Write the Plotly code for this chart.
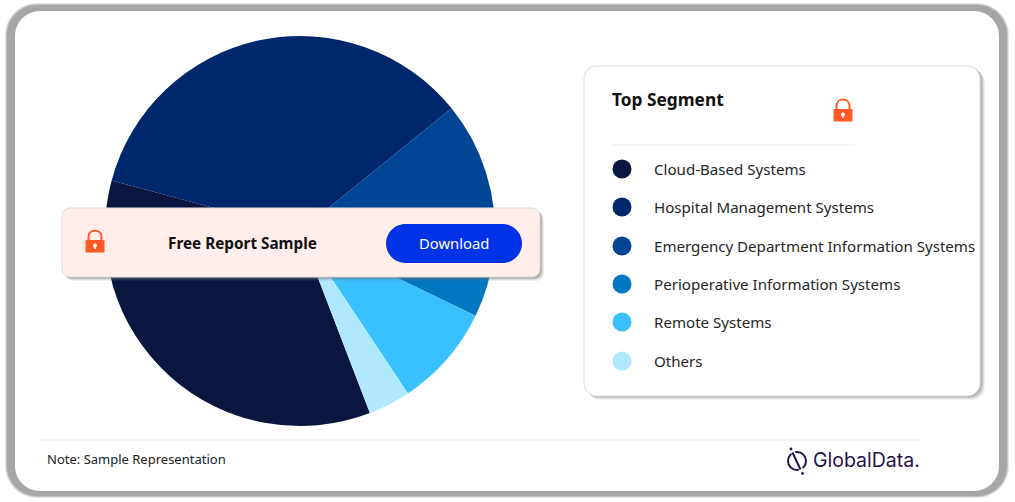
import plotly.graph_objects as go

categories = ["Cloud-Based Systems", "Hospital Management Systems",
              "Emergency Department Information Systems",
              "Perioperative Information Systems", "Remote Systems", "Others"]
shares = [35, 35, 12, 6, 8.5, 3.5]
colors = ["#0a1640", "#00266b", "#004494", "#0078c1", "#38c0ff", "#b0e8ff"]

W, H = 1015, 502
FONT = "Noto Sans"
ORANGE = "#ff5a26"


def px(x):
    return x / W


def py(y):
    return 1 - y / H


def rr_path(x0, y0, x1, y1, r):
    k = 0.45 * r
    pts = [
        ("M", x0 + r, y0), ("L", x1 - r, y0),
        ("C", x1 - k, y0, x1, y0 + k, x1, y0 + r), ("L", x1, y1 - r),
        ("C", x1, y1 - k, x1 - k, y1, x1 - r, y1), ("L", x0 + r, y1),
        ("C", x0 + k, y1, x0, y1 - k, x0, y1 - r), ("L", x0, y0 + r),
        ("C", x0, y0 + k, x0 + k, y0, x0 + r, y0),
    ]
    out = []
    for p in pts:
        coords = p[1:]
        s = " ".join(f"{px(coords[i]):.5f},{py(coords[i + 1]):.5f}" for i in range(0, len(coords), 2))
        out.append(f"{p[0]} {s}")
    return " ".join(out) + " Z"


def rr(x0, y0, x1, y1, r, fill, line=None, lw=0, opacity=1, layer="below"):
    return dict(type="path", xref="paper", yref="paper", path=rr_path(x0, y0, x1, y1, r),
                fillcolor=fill, opacity=opacity, layer=layer,
                line=dict(color=line or "rgba(0,0,0,0)", width=lw))


def seg(x0, y0, x1, y1, color, width=1, layer="above"):
    return dict(type="line", xref="paper", yref="paper", x0=px(x0), x1=px(x1), y0=py(y0), y1=py(y1),
                layer=layer, line=dict(color=color, width=width))


def circle(cx, cy, r, fill, line=None, lw=0, layer="above"):
    return dict(type="circle", xref="paper", yref="paper", x0=px(cx - r), x1=px(cx + r),
                y0=py(cy + r), y1=py(cy - r), fillcolor=fill, layer=layer,
                line=dict(color=line or "rgba(0,0,0,0)", width=lw))


def lock(cx, cy):
    body = rr(cx - 9.5, cy - 2, cx + 9.5, cy + 10.5, 1, ORANGE, layer="above")
    shackle = dict(type="path", xref="paper", yref="paper", layer="above",
                   path=f"M {px(cx - 6.5):.5f},{py(cy - 2):.5f} L {px(cx - 6.5):.5f},{py(cy - 5):.5f} "
                        f"C {px(cx - 6.5):.5f},{py(cy - 13.5):.5f} {px(cx + 6.5):.5f},{py(cy - 13.5):.5f} "
                        f"{px(cx + 6.5):.5f},{py(cy - 5):.5f} L {px(cx + 6.5):.5f},{py(cy - 2):.5f}",
                   fillcolor="rgba(0,0,0,0)", line=dict(color=ORANGE, width=2))
    hole = circle(cx, cy + 3.5, 2, "#ffffff")
    stem = seg(cx, cy + 3.5, cx, cy + 7, "#ffffff", 1.4)
    return [body, shackle, hole, stem]


shapes = []
# outer blurred frame
for g, op in [(2, 0.3), (1, 0.55), (0, 1)]:
    shapes.append(rr(7 - g, 5 - g, 1007 + g, 496 + g, 30 + g, "#a6a6a6", opacity=op))
shapes.append(rr(15, 11, 999, 491, 25, "#ffffff"))
shapes.append(seg(38, 440, 922, 440, "#f0f0f0", 1.5, layer="below"))

# legend card
for g, op in [(4, 0.12), (3, 0.18), (2, 0.25), (1, 0.35)]:
    shapes.append(rr(584 + g, 66 + g, 981 + g, 396 + g, 13, "#8c8c8c", opacity=op))
shapes.append(rr(584, 66, 980, 396, 13, "#ffffff", line="#dedede", lw=1))
shapes.append(seg(613, 145, 855, 145, "#efefef", 1.5, layer="below"))

# banner, above the pie
for g, op in [(4, 0.12), (3, 0.18), (2, 0.25), (1, 0.35)]:
    shapes.append(rr(62 + g, 208 + g, 540 + g, 277 + g, 8, "#707070", opacity=op, layer="above"))
shapes.append(rr(62, 208, 540, 277, 8, "#ffeeea", line="#dcdcdc", lw=1, layer="above"))
shapes.append(rr(386, 224, 522, 263, 19.5, "#0033e6", layer="above"))
shapes += lock(95, 242)
shapes += lock(843, 111)

# legend markers
legend_y = [169, 207, 246, 284, 322, 361]
for c, y in zip(colors, legend_y):
    shapes.append(circle(622, y, 9.5, c))

# GlobalData logo
LOGO = "#24124d"
shapes.append(circle(797, 461, 9, "rgba(0,0,0,0)", line=LOGO, lw=2))
shapes.append(seg(790.5, 447, 803.5, 475, "#ffffff", 4))
shapes.append(seg(792.5, 452.5, 800.5, 469.5, LOGO, 2))
shapes.append(circle(791, 449, 1.4, LOGO))
shapes.append(circle(802.5, 473.5, 1.4, LOGO))


def txt(x, y, s, size, color="#1a1a1a", anchor="left", bold=False, family=FONT):
    return dict(xref="paper", yref="paper", x=px(x), y=py(y), text=f"<b>{s}</b>" if bold else s,
                showarrow=False, xanchor=anchor, yanchor="middle",
                font=dict(family=family, size=size, color=color))


annotations = [
    txt(610, 99, "Top Segment", 17.3, "#111111", bold=True),
    txt(242, 243, "Free Report Sample", 15.3, "#111111", "center", bold=True),
    txt(454, 243, "Download", 14.8, "#ffffff", "center"),
    txt(45, 459, "Note: Sample Representation", 13, "#222222"),
    txt(811, 460, "GlobalData.", 19.5, LOGO, family="Inter"),
]
for name, y in zip(categories, legend_y):
    annotations.append(txt(652, y, name, 15.1, "#262626"))

fig = go.Figure(go.Pie(
    labels=categories, values=shares, sort=False, direction="clockwise", rotation=159,
    marker=dict(colors=colors, line=dict(width=0)), textinfo="none", showlegend=False,
    domain=dict(x=[105 / W, 495 / W], y=[1 - 426 / H, 1 - 36 / H]),
))
fig.update_layout(width=W, height=H, margin=dict(l=0, r=0, t=0, b=0), paper_bgcolor="#ffffff",
                  plot_bgcolor="#ffffff", shapes=shapes, annotations=annotations, showlegend=False)
fig.write_html("out.html", config=dict(displayModeBar=False),
               post_script="document.body.style.margin='0';document.body.style.overflow='hidden';")
